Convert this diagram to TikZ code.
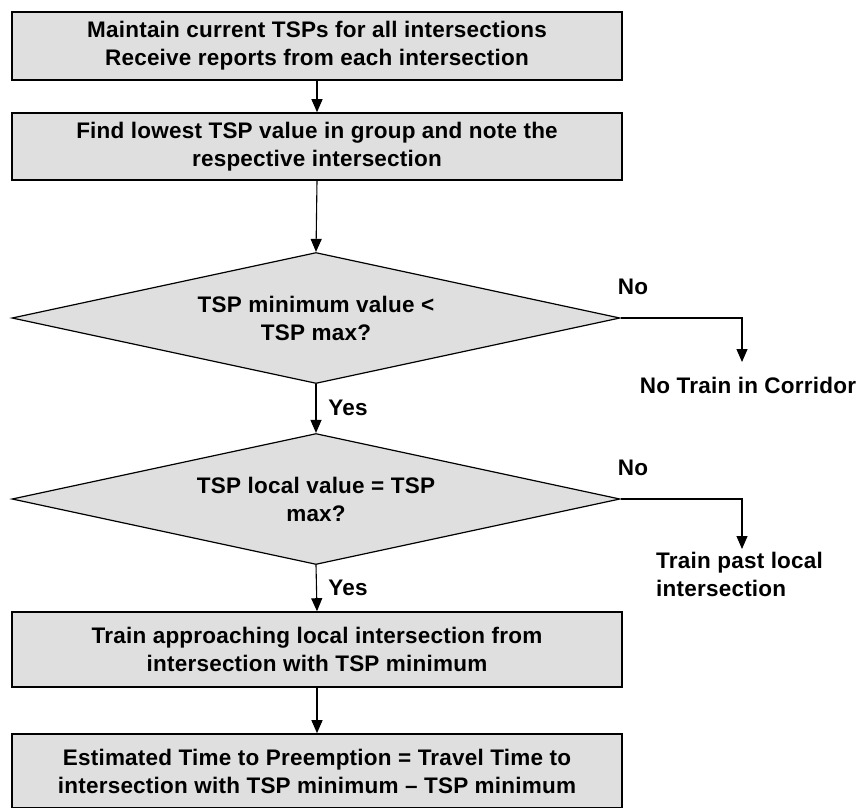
\documentclass[tikz,border=0pt]{standalone}
\usepackage{fontspec}
\setmainfont[LetterSpace=1]{Liberation Sans}
\usetikzlibrary{shapes.geometric,arrows.meta}
\begin{document}
\begin{tikzpicture}[>={Triangle[length=13pt,width=11pt]}, x=1pt, y=-1pt]
\tikzstyle{every node}=[font=\fontsize{22.5}{28}\selectfont\bfseries]
\tikzstyle{box}=[draw, line width=1.6pt, fill=gray!25, rectangle, minimum width=610pt, minimum height=68pt, align=center, inner sep=0pt]
\tikzstyle{decision}=[draw, line width=1.2pt, fill=gray!25, diamond, aspect=4.6, minimum width=608pt, minimum height=131pt, align=center, inner sep=0pt]
\tikzstyle{lbl}=[inner sep=0pt, align=left]
\tikzstyle{flow}=[->, line width=1.1pt]
\useasboundingbox (0,0) rectangle (864,807);
\node[box](maint) at (317,46) {Maintain current TSPs for all intersections\\Receive reports from each intersection};
\node[box,minimum height=67pt](lowest) at (317,146.5) {Find lowest TSP value in group and note the\\respective intersection};
\node[decision](mincheck) at (316,318) {TSP minimum value <\\TSP max?};
\node[decision](localcheck) at (316,499) {TSP local value = TSP\\max?};
\node[box,minimum height=75pt](approach) at (317,649.5) {Train approaching local intersection from\\intersection with TSP minimum};
\node[box,minimum height=74pt](preempt) at (317,771) {Estimated Time to Preemption = Travel Time to\\intersection with TSP minimum -- TSP minimum};
\node[lbl](notrain) at (748,385) {No Train in Corridor};
\node[lbl,anchor=north west](past) at (656,552) {Train past local\\intersection};
\node[lbl](no1) at (633,287) {No};
\node[lbl](no2) at (633,468) {No};
\node[lbl](yes1) at (348,408) {Yes};
\node[lbl](yes2) at (348,588) {Yes};
\coordinate (nt) at (742,362);
\coordinate (np) at (742,549);
\draw[flow] (maint.south) -- (lowest.north);
\draw[flow] (lowest.south) -- (mincheck.north);
\draw[flow] (mincheck.south) -- (localcheck.north);
\draw[flow] (localcheck.south) -- (approach.north);
\draw[flow] (approach.south) -- (preempt.north);
\draw[flow] (mincheck.east) -| (nt);
\draw[flow] (localcheck.east) -| (np);
\end{tikzpicture}
\end{document}
